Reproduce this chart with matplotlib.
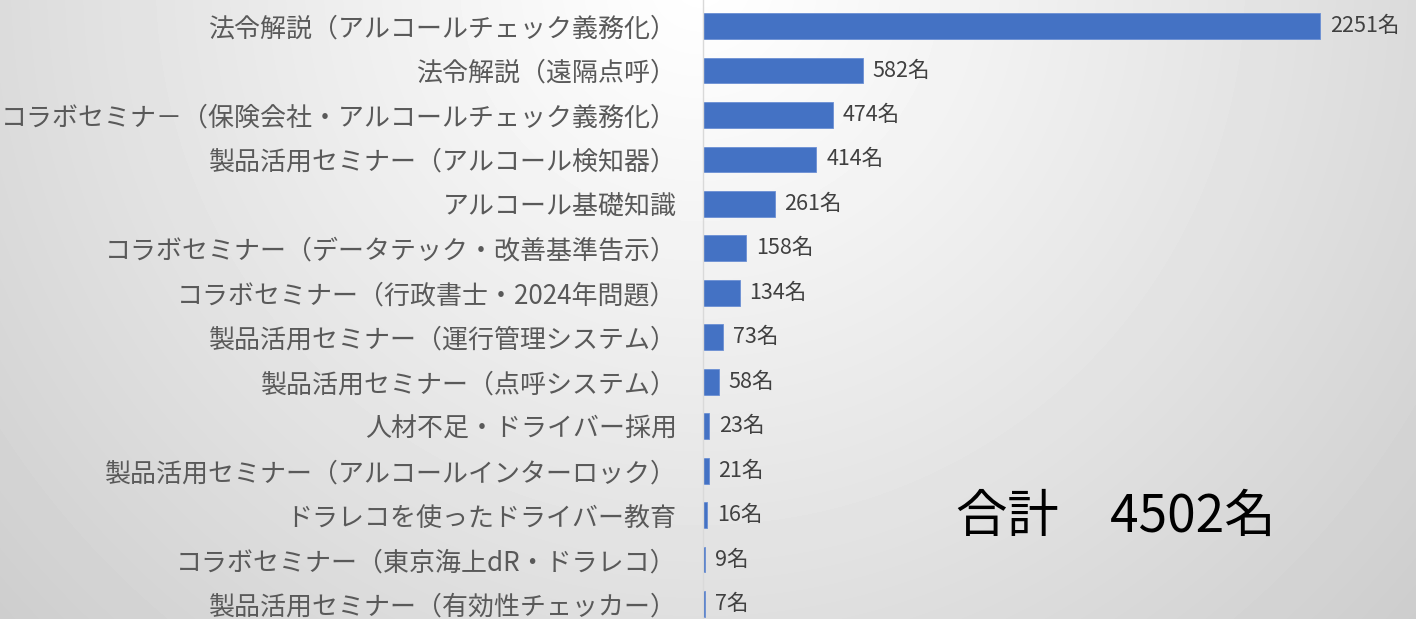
import numpy as np
import matplotlib.pyplot as plt

plt.rcParams['font.family'] = ['Noto Sans CJK JP', 'DejaVu Sans']

# data
categories = [
    "法令解説（アルコールチェック義務化）",
    "法令解説（遠隔点呼）",
    "コラボセミナ－（保険会社・アルコールチェック義務化）",
    "製品活用セミナー（アルコール検知器）",
    "アルコール基礎知識",
    "コラボセミナー（データテック・改善基準告示）",
    "コラボセミナー（行政書士・2024年問題）",
    "製品活用セミナー（運行管理システム）",
    "製品活用セミナー（点呼システム）",
    "人材不足・ドライバー採用",
    "製品活用セミナー（アルコールインターロック）",
    "ドラレコを使ったドライバー教育",
    "コラボセミナー（東京海上dR・ドラレコ）",
    "製品活用セミナー（有効性チェッカー）",
]
values = [2251, 582, 474, 414, 261, 158, 134, 73, 58, 23, 21, 16, 9, 7]
total_label = "合計　4502名"

W, H = 1416, 619
fig = plt.figure(figsize=(W / 100, H / 100), dpi=100)

# background gradient, light at top middle, grey to the corners
bg = fig.add_axes([0, 0, 1, 1])
yy, xx = np.mgrid[0:H, 0:W]
d = np.sqrt((xx - 700.0) ** 2 + (yy + 20.0) ** 2) / 930.0
shade = np.clip(1.0 - 0.19 * d ** 1.1, 0.78, 1.0)
bg.imshow(shade, cmap='gray', vmin=0, vmax=1, aspect='auto', extent=[0, 1, 0, 1])
bg.axis('off')

x0 = 703 / W
ax = fig.add_axes([x0, 0, 1 - x0, 1])
ax.patch.set_alpha(0)
y = np.arange(len(values))
ax.barh(y, values, height=0.58, color='#4472C4', edgecolor='#6b8fd4', linewidth=0.6)
ax.set_ylim(13.337, -0.585)
ax.set_xlim(0, 2601)
ax.set_yticks(y)
ax.set_yticklabels(categories, fontsize=18.7, color='#595959')
ax.tick_params(axis='y', length=0, pad=19)
ax.set_xticks([])
for s in ['top', 'right', 'bottom']:
    ax.spines[s].set_visible(False)
ax.spines['left'].set_color('#d9d9d9')
ax.spines['left'].set_linewidth(1)

for yi, v in zip(y, values):
    ax.annotate(f"{v}名", (v, yi), xytext=(7, 0), textcoords='offset points',
                va='center', ha='left', fontsize=15.5, color='#404040',
                family=['Liberation Sans Narrow', 'Noto Sans CJK JP'])

fig.text(1116 / W, 1 - 517 / H, total_label, fontsize=37, color='black',
         ha='center', va='center',
         family=['Liberation Sans Narrow', 'Noto Sans CJK JP'])

fig.savefig('out.png', dpi=100)
